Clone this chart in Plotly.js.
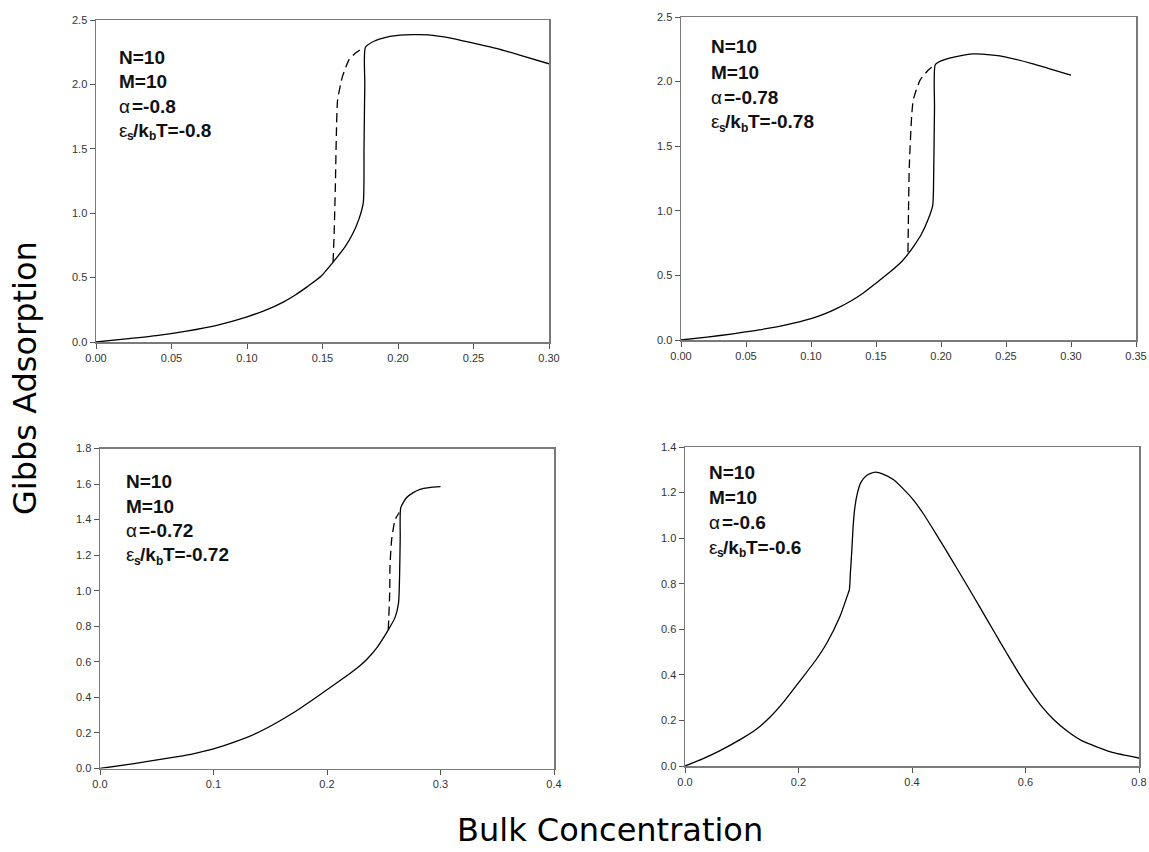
<!DOCTYPE html>
<html>
<head>
<meta charset="utf-8">
<script src="https://cdn.plot.ly/plotly-3.0.1.min.js"></script>
<style>html,body{margin:0;padding:0;background:#fff;}#chart{width:1149px;height:852px;}</style>
</head>
<body>
<div id="chart"></div>
<script>
// ---------- Data ----------
// Panel 1: alpha = -0.8
var x1Solid = [0, 0.02, 0.04, 0.06, 0.08, 0.10, 0.112, 0.124, 0.132, 0.14, 0.149, 0.157, 0.165, 0.17, 0.174, 0.177, 0.1775, 0.178, 0.1785, 0.185, 0.19, 0.20, 0.21, 0.22, 0.235, 0.25, 0.265, 0.28, 0.30];
var y1Solid = [0, 0.025, 0.05, 0.085, 0.13, 0.196, 0.245, 0.31, 0.365, 0.43, 0.51, 0.62, 0.74, 0.84, 0.95, 1.08, 1.5, 2.0, 2.29, 2.34, 2.36, 2.38, 2.386, 2.385, 2.36, 2.32, 2.28, 2.23, 2.16];
var x1Dash = [0.157, 0.1577, 0.1585, 0.1592, 0.160, 0.1632, 0.1675, 0.1715, 0.1752];
var y1Dash = [0.62, 0.84, 1.2, 1.62, 1.88, 2.06, 2.19, 2.24, 2.27];

// Panel 2: alpha = -0.78
var x2Solid = [0, 0.02, 0.04, 0.06, 0.08, 0.10, 0.11, 0.12, 0.13, 0.14, 0.15, 0.16, 0.17, 0.175, 0.18, 0.185, 0.19, 0.1936, 0.1944, 0.195, 0.1956, 0.20, 0.21, 0.225, 0.24, 0.25, 0.27, 0.30];
var y2Solid = [0, 0.022, 0.048, 0.078, 0.115, 0.165, 0.2, 0.245, 0.298, 0.362, 0.44, 0.52, 0.61, 0.67, 0.74, 0.82, 0.93, 1.04, 1.3, 1.8, 2.13, 2.16, 2.19, 2.215, 2.205, 2.19, 2.14, 2.05];
var x2Dash = [0.1746, 0.175, 0.1756, 0.1774, 0.1787, 0.1838, 0.1903, 0.1954];
var y2Dash = [0.68, 1.0, 1.34, 1.73, 1.86, 2.01, 2.09, 2.13];

// Panel 3: alpha = -0.72
var x3Solid = [0, 0.03, 0.06, 0.08, 0.10, 0.12, 0.141, 0.17, 0.20, 0.215, 0.229, 0.236, 0.244, 0.254, 0.260, 0.263, 0.264, 0.2645, 0.265, 0.270, 0.276, 0.282, 0.29, 0.300];
var y3Solid = [0, 0.028, 0.058, 0.08, 0.11, 0.152, 0.208, 0.312, 0.443, 0.51, 0.578, 0.62, 0.68, 0.78, 0.85, 0.93, 1.1, 1.3, 1.467, 1.523, 1.552, 1.57, 1.58, 1.585];
var x3Dash = [0.254, 0.2553, 0.2555, 0.257, 0.260, 0.2637];
var y3Dash = [0.78, 1.0, 1.14, 1.29, 1.40, 1.44];

// Panel 4: alpha = -0.6
var x4Solid = [0, 0.03, 0.06, 0.10, 0.125, 0.15, 0.175, 0.203, 0.23, 0.25, 0.273, 0.285, 0.2896, 0.2915, 0.2937, 0.2965, 0.2996, 0.304, 0.31, 0.32, 0.335, 0.35, 0.367, 0.385, 0.402, 0.42, 0.437, 0.458, 0.479, 0.50, 0.52, 0.545, 0.567, 0.59, 0.614, 0.63, 0.649, 0.675, 0.70, 0.75, 0.80];
var y4Solid = [0, 0.03, 0.065, 0.12, 0.16, 0.215, 0.285, 0.375, 0.463, 0.54, 0.656, 0.74, 0.774, 0.85, 0.935, 1.06, 1.14, 1.2, 1.245, 1.275, 1.29, 1.28, 1.257, 1.215, 1.169, 1.107, 1.04, 0.955, 0.868, 0.78, 0.695, 0.588, 0.495, 0.40, 0.31, 0.257, 0.205, 0.15, 0.11, 0.062, 0.035];

// Panel annotation labels
var paramN = ["N=10", "N=10", "N=10", "N=10"];
var paramM = ["M=10", "M=10", "M=10", "M=10"];
var paramAlpha = ["-0.8", "-0.78", "-0.72", "-0.6"];
var paramEps = ["-0.8", "-0.78", "-0.72", "-0.6"];

// Tick labels
var x1Ticks = [0, 0.05, 0.10, 0.15, 0.20, 0.25, 0.30];
var x1TickText = ["0.00", "0.05", "0.10", "0.15", "0.20", "0.25", "0.30"];
var y1Ticks = [0, 0.5, 1.0, 1.5, 2.0, 2.5];
var y1TickText = ["0.0", "0.5", "1.0", "1.5", "2.0", "2.5"];
var x2Ticks = [0, 0.05, 0.10, 0.15, 0.20, 0.25, 0.30, 0.35];
var x2TickText = ["0.00", "0.05", "0.10", "0.15", "0.20", "0.25", "0.30", "0.35"];
var y2Ticks = [0, 0.5, 1.0, 1.5, 2.0, 2.5];
var y2TickText = ["0.0", "0.5", "1.0", "1.5", "2.0", "2.5"];
var x3Ticks = [0, 0.1, 0.2, 0.3, 0.4];
var x3TickText = ["0.0", "0.1", "0.2", "0.3", "0.4"];
var y3Ticks = [0, 0.2, 0.4, 0.6, 0.8, 1.0, 1.2, 1.4, 1.6, 1.8];
var y3TickText = ["0.0", "0.2", "0.4", "0.6", "0.8", "1.0", "1.2", "1.4", "1.6", "1.8"];
var x4Ticks = [0, 0.2, 0.4, 0.6, 0.8];
var x4TickText = ["0.0", "0.2", "0.4", "0.6", "0.8"];
var y4Ticks = [0, 0.2, 0.4, 0.6, 0.8, 1.0, 1.2, 1.4];
var y4TickText = ["0.0", "0.2", "0.4", "0.6", "0.8", "1.0", "1.2", "1.4"];

var xTitle = "Bulk Concentration";
var yTitle = "Gibbs Adsorption";

// ---------- Layout helpers ----------
var W = 1149, H = 852;
function px(v) { return v / W; }
function py(v) { return 1 - v / H; }

var FONT = "Arial, 'Liberation Sans', sans-serif";
var TITLEFONT = "'DejaVu Sans', Arial, sans-serif";
var lineStyle = {color: '#000', width: 1.3, shape: 'spline', smoothing: 0.6};
var dashStyle = {color: '#000', width: 1.3, dash: '9px,5px', shape: 'spline', smoothing: 0.5};

function solid(x, y, xa, ya) {
  return {x: x, y: y, xaxis: xa, yaxis: ya, type: 'scatter', mode: 'lines', line: lineStyle, showlegend: false, hoverinfo: 'skip'};
}
function dashed(x, y, xa, ya) {
  return {x: x, y: y, xaxis: xa, yaxis: ya, type: 'scatter', mode: 'lines', line: dashStyle, showlegend: false, hoverinfo: 'skip'};
}

var traces = [
  solid(x1Solid, y1Solid, 'x', 'y'), dashed(x1Dash, y1Dash, 'x', 'y'),
  solid(x2Solid, y2Solid, 'x2', 'y2'), dashed(x2Dash, y2Dash, 'x2', 'y2'),
  solid(x3Solid, y3Solid, 'x3', 'y3'), dashed(x3Dash, y3Dash, 'x3', 'y3'),
  solid(x4Solid, y4Solid, 'x4', 'y4')
];

function axis(dom, range, tv, tt, anchor) {
  return {
    domain: dom, range: range, anchor: anchor,
    tickvals: tv, ticktext: tt, tickmode: 'array',
    showline: true, mirror: true, linecolor: '#7a7a7a', linewidth: 1.5,
    ticks: 'outside', ticklen: 5, tickwidth: 1, tickcolor: '#555',
    showgrid: false, zeroline: false,
    tickfont: {family: FONT, size: 11, color: '#333'},
    fixedrange: true
  };
}

// pixel boxes: [left, right, top, bottom]
var boxes = [
  [96, 549, 20, 342],
  [681, 1136, 17, 340],
  [100, 554, 448.5, 768.5],
  [685, 1139, 447, 766]
];
function xd(b) { return [px(b[0]), px(b[1])]; }
function yd(b) { return [py(b[3]), py(b[2])]; }

var layout = {
  width: W, height: H,
  margin: {l: 0, r: 0, t: 0, b: 0},
  paper_bgcolor: '#fff', plot_bgcolor: '#fff',
  showlegend: false,
  xaxis: axis(xd(boxes[0]), [0, 0.30], x1Ticks, x1TickText, 'y'),
  yaxis: axis(yd(boxes[0]), [0, 2.5], y1Ticks, y1TickText, 'x'),
  xaxis2: axis(xd(boxes[1]), [0, 0.35], x2Ticks, x2TickText, 'y2'),
  yaxis2: axis(yd(boxes[1]), [0, 2.5], y2Ticks, y2TickText, 'x2'),
  xaxis3: axis(xd(boxes[2]), [0, 0.4], x3Ticks, x3TickText, 'y3'),
  yaxis3: axis(yd(boxes[2]), [0, 1.8], y3Ticks, y3TickText, 'x3'),
  xaxis4: axis(xd(boxes[3]), [0, 0.8], x4Ticks, x4TickText, 'y4'),
  yaxis4: axis(yd(boxes[3]), [0, 1.4], y4Ticks, y4TickText, 'x4'),
  annotations: []
};

// parameter text blocks: [left px, first line center px, line spacing]
var textPos = [
  [117, 57, 24.5],
  [709, 47, 25],
  [124, 482, 24.3],
  [707, 473, 24.7]
];
function note(x, y, text, weight, size) {
  return {
    xref: 'paper', yref: 'paper', x: px(x), y: py(y),
    xanchor: 'left', yanchor: 'middle', text: text, showarrow: false,
    font: {family: FONT, size: size || 19, color: '#111', weight: weight}
  };
}
for (var i = 0; i < 4; i++) {
  var tp = textPos[i];
  var x0 = tp[0];
  var yl = function (k) { return tp[1] + k * tp[2]; };
  layout.annotations.push(note(x0, yl(0), paramN[i], 'bold'));
  layout.annotations.push(note(x0, yl(1), paramM[i], 'bold'));
  layout.annotations.push(note(x0, yl(2), 'α', 'normal'));
  layout.annotations.push(note(x0 + 13, yl(2), '=' + paramAlpha[i], 'bold'));
  // epsilon_s / k_b T line, built piece by piece
  layout.annotations.push(note(x0, yl(3), 'ε', 'normal'));
  layout.annotations.push(note(x0 + 8, yl(3) + 6, 's', 'bold', 12));
  layout.annotations.push(note(x0 + 14, yl(3), '/k', 'bold'));
  layout.annotations.push(note(x0 + 29.5, yl(3) + 6, 'b', 'bold', 12));
  layout.annotations.push(note(x0 + 37, yl(3), 'T=' + paramEps[i], 'bold'));
}

// shared axis titles
layout.annotations.push({
  xref: 'paper', yref: 'paper', x: px(25), y: py(378),
  xanchor: 'center', yanchor: 'middle', textangle: -90,
  text: yTitle, showarrow: false,
  font: {family: TITLEFONT, size: 32, color: '#000'}
});
layout.annotations.push({
  xref: 'paper', yref: 'paper', x: px(610), y: py(851),
  xanchor: 'center', yanchor: 'bottom',
  text: xTitle, showarrow: false,
  font: {family: TITLEFONT, size: 32, color: '#000'}
});

Plotly.newPlot('chart', traces, layout, {displayModeBar: false, staticPlot: true});
</script>
</body>
</html>
